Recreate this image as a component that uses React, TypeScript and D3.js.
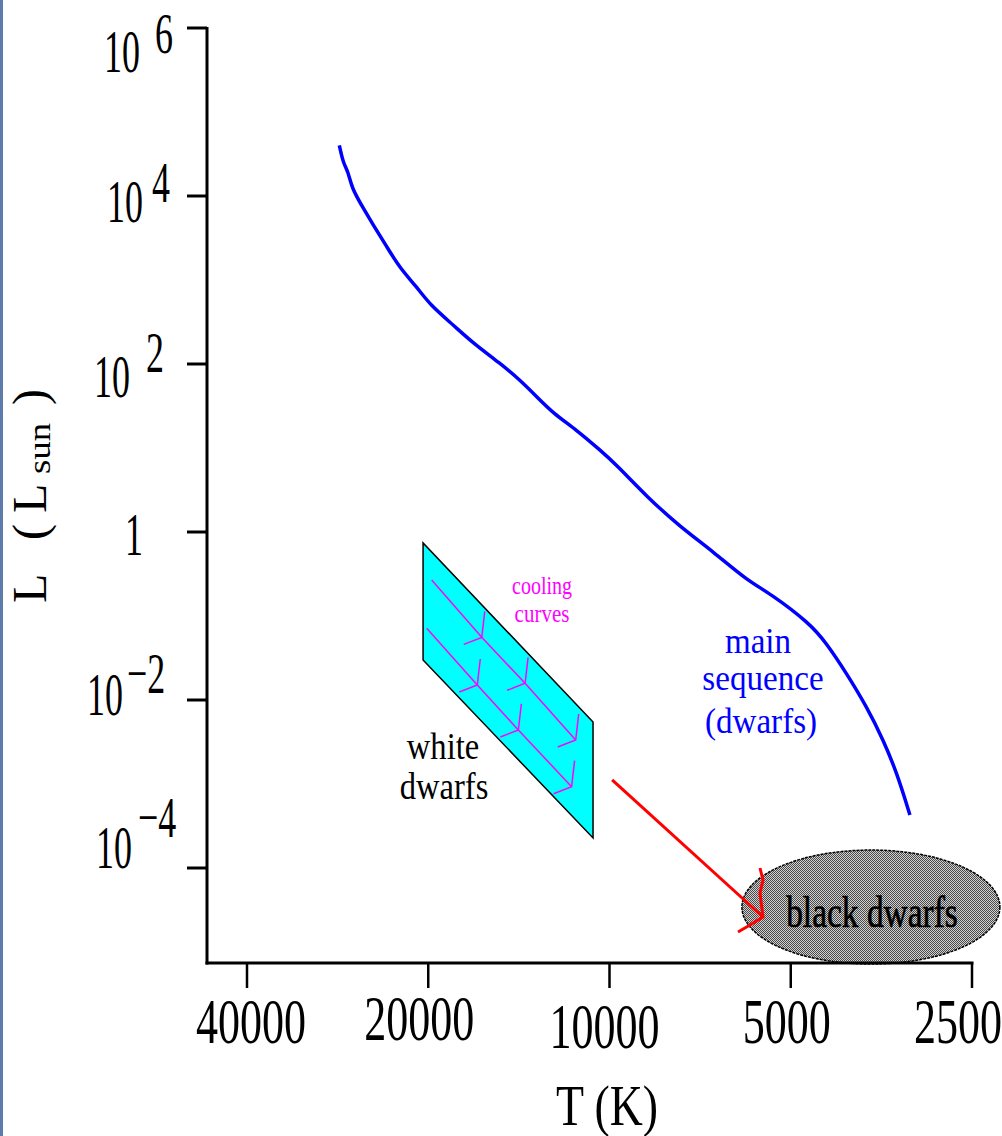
import React, { useEffect, useRef } from 'react'
import * as d3 from 'd3'

const W = 1002
const H = 1136

// main sequence track (T in K, L in Lsun)
const msTemp = [28100, 27680, 27160, 26800, 25640, 24680, 23440, 22280, 20910, 19860, 18170, 16830, 15200, 14080, 13210, 12400, 11340, 10370, 9730, 8670, 7640, 6720, 5920, 5410, 4650, 4360, 4040, 3740, 3510, 3330, 3170]
const msLum = [4.0e4, 2.45e4, 1.95e4, 1.24e4, 7150, 4520, 2490, 1380, 832, 504, 291, 176, 102, 64.5, 40.8, 25.9, 16.4, 9.46, 6.28, 2.63, 1.16, 0.582, 0.268, 0.186, 0.0818, 0.0473, 0.0208, 0.00832, 0.00334, 0.00134, 0.000428]

const xTicks = [40000, 20000, 10000, 5000, 2500]
const xTickLabels = ['40000', '20000', '10000', '5000', '2500']
const yTicks = [1e6, 1e4, 1e2, 1, 1e-2, 1e-4]
const yTickBase = ['10', '10', '10', '1', '10', '10']
const yTickExp = ['6', '4', '2', '', '\u22122', '\u22124']

// white dwarf region (corners)
const wdTemp = [20400, 20400, 10650, 10650]
const wdLum = [0.74, 0.0299, 2.28e-4, 5.47e-3]

// cooling curves: start, two junctions, end
const cool1Temp = [19740, 16300, 13810, 11380]
const cool1Lum = [0.268, 0.0557, 0.0158, 0.00334]
const cool2Temp = [20120, 16580, 14170, 11560]
const cool2Lum = [0.0714, 0.0151, 0.0044, 9.29e-4]

// white dwarf -> black dwarf arrow
const arrowTemp = [9900, 5560]
const arrowLum = [1.12e-3, 2.61e-5]

// black dwarf blob centre
const bdTemp = [3680]
const bdLum = [3.43e-5]

// layout (pixels)
const axisX = 207
const axisY = 963
const xLabelDx = [4, -9, -5, -4, -14]
const xLabelBase = [1043, 1040, 1048, 1043, 1043]
const yLabelRight = [140, 143, 130, 143, 123, 132]
const yLabelDy = [44, 26, 33, 23, 15, 0]
const yExpDy = [-19, -20, -25, 0, -22, -31]
const yExpGap = [15, 9, 16, 0, 4, 6]

const serif = '"Liberation Serif", "Times New Roman", serif'

const App = () => {
  const ref = useRef<SVGSVGElement>(null)

  useEffect(() => {
    const svg = d3.select(ref.current)
    svg.selectAll('*').remove()

    const x = d3.scaleLog().domain([40000, 2500]).range([247, 972])
    const y = d3.scaleLog().domain([1e6, 1e-4]).range([28, 868])

    const defs = svg.append('defs')
    const pat = defs.append('pattern').attr('id', 'dither')
      .attr('width', 2).attr('height', 2).attr('patternUnits', 'userSpaceOnUse')
    pat.append('rect').attr('width', 2).attr('height', 2).attr('fill', '#d0d0d0')
    pat.append('rect').attr('width', 1).attr('height', 1).attr('fill', '#4a4a4a')
    pat.append('rect').attr('x', 1).attr('y', 1).attr('width', 1).attr('height', 1).attr('fill', '#4a4a4a')

    svg.append('rect').attr('width', W).attr('height', H).attr('fill', '#fff')
    svg.append('rect').attr('width', 3).attr('height', H).attr('fill', '#5d7cab')

    const txt = (t: string, px: number, py: number, size: number, sx: number, fill: string, anchor: string) =>
      svg.append('text')
        .attr('transform', 'translate(' + px + ',' + py + ') scale(' + sx + ',1)')
        .attr('font-family', serif)
        .attr('font-size', size)
        .attr('text-anchor', anchor)
        .attr('fill', fill)
        .text(t)

    // -------- black dwarfs blob (under the axis)
    svg.append('ellipse')
      .attr('cx', x(bdTemp[0])).attr('cy', y(bdLum[0]))
      .attr('rx', 129).attr('ry', 57)
      .attr('fill', 'url(#dither)')
      .attr('stroke', '#000').attr('stroke-width', 1.5)
      .attr('stroke-dasharray', '3,1')
    txt('black dwarfs', 872, 927, 44, 0.76, '#000', 'middle')
      .attr('stroke', '#000').attr('stroke-width', 0.7)

    // -------- axes
    svg.append('line').attr('x1', axisX).attr('x2', axisX)
      .attr('y1', y(1e6) - 1).attr('y2', axisY + 1.5)
      .attr('stroke', '#000').attr('stroke-width', 3)
    svg.append('line').attr('x1', axisX - 1.5).attr('x2', x(2500) + 1.5)
      .attr('y1', axisY).attr('y2', axisY)
      .attr('stroke', '#000').attr('stroke-width', 3)

    yTicks.forEach((v, i) => {
      const ty = y(v)
      svg.append('line').attr('x1', axisX - 20).attr('x2', axisX)
        .attr('y1', ty).attr('y2', ty)
        .attr('stroke', '#000').attr('stroke-width', 3)
      const base = ty + yLabelDy[i]
      txt(yTickBase[i], yLabelRight[i], base, 62, 0.58, '#000', 'end')
      if (yTickExp[i]) {
        txt(yTickExp[i], yLabelRight[i] + yExpGap[i], base + yExpDy[i], 58, 0.62, '#000', 'start')
      }
    })

    xTicks.forEach((v, i) => {
      const tx = x(v)
      svg.append('line').attr('x1', tx).attr('x2', tx)
        .attr('y1', axisY).attr('y2', axisY + 25)
        .attr('stroke', '#000').attr('stroke-width', 2.5)
      txt(xTickLabels[i], tx + xLabelDx[i], xLabelBase[i], 63, 0.7, '#000', 'middle')
    })

    // axis titles
    txt('T (K)', 607, 1125, 58, 0.79, '#000', 'middle')
    const yt = svg.append('g').attr('transform', 'translate(46,603) rotate(-90)')
      .attr('font-family', serif).attr('fill', '#000')
    yt.append('text').attr('x', 0).attr('font-size', 48).text('L')
    yt.append('text').attr('x', 63).attr('font-size', 48).text('(')
    yt.append('text').attr('x', 90).attr('font-size', 48).text('L')
    yt.append('text').attr('y', 4).attr('font-size', 32)
      .attr('transform', 'scale(1.15,1)').attr('x', 129 / 1.15).text('sun')
    yt.append('text').attr('x', 198).attr('font-size', 48).text(')')

    // -------- main sequence
    const line = d3.line<number>()
      .x((d, i) => x(msTemp[i]))
      .y(d => y(d))
      .curve(d3.curveBasis)
    svg.append('path').datum(msLum)
      .attr('d', line)
      .attr('fill', 'none').attr('stroke', '#0000ff').attr('stroke-width', 3.5)
    txt('main', 758, 653, 36, 0.92, '#0000ff', 'middle')
    txt('sequence', 763, 690, 36, 0.92, '#0000ff', 'middle')
    txt('(dwarfs)', 761, 733, 36, 0.92, '#0000ff', 'middle')

    // -------- white dwarf region
    const box = d3.line<number>().x((d, i) => x(wdTemp[i])).y(d => y(d))
    svg.append('path').datum(wdLum)
      .attr('d', box(wdLum) + 'Z')
      .attr('fill', '#00ffff').attr('stroke', '#000').attr('stroke-width', 1.5)

    const tracks = [[cool1Temp, cool1Lum], [cool2Temp, cool2Lum]]
    tracks.forEach(([ts, ls]) => {
      const tl = d3.line<number>().x((d, i) => x(ts[i])).y(d => y(d))
      svg.append('path').datum(ls).attr('d', tl)
        .attr('fill', 'none').attr('stroke', '#ff00ff').attr('stroke-width', 1.5)
      ls.forEach((l, i) => {
        if (i === 0) return
        svg.append('path')
          .attr('transform', 'translate(' + x(ts[i]) + ',' + y(l) + ')')
          .attr('d', 'M3,-26L0,0L-18,7')
          .attr('fill', 'none').attr('stroke', '#ff00ff').attr('stroke-width', 1.5)
      })
    })
    txt('cooling', 542, 594, 25, 0.8, '#ff00ff', 'middle')
    txt('curves', 542, 622, 25, 0.84, '#ff00ff', 'middle')

    txt('white', 443, 759, 37, 0.88, '#000', 'middle')
    txt('dwarfs', 444, 799, 37, 0.88, '#000', 'middle')

    // -------- arrow
    svg.append('line')
      .attr('x1', x(arrowTemp[0])).attr('y1', y(arrowLum[0]))
      .attr('x2', x(arrowTemp[1])).attr('y2', y(arrowLum[1]))
      .attr('stroke', '#ff0000').attr('stroke-width', 3)
    svg.append('path')
      .attr('transform', 'translate(' + x(arrowTemp[1]) + ',' + y(arrowLum[1]) + ')')
      .attr('d', 'M-3,-49L0,-37L-3,-24L0,0L-13,8L-25,15')
      .attr('fill', 'none').attr('stroke', '#ff0000').attr('stroke-width', 3)
  }, [])

  return (
    <svg
      ref={ref}
      width={W}
      height={H}
      style={{ position: 'absolute', left: 0, top: 0, display: 'block' }}
    />
  )
}

export default App
